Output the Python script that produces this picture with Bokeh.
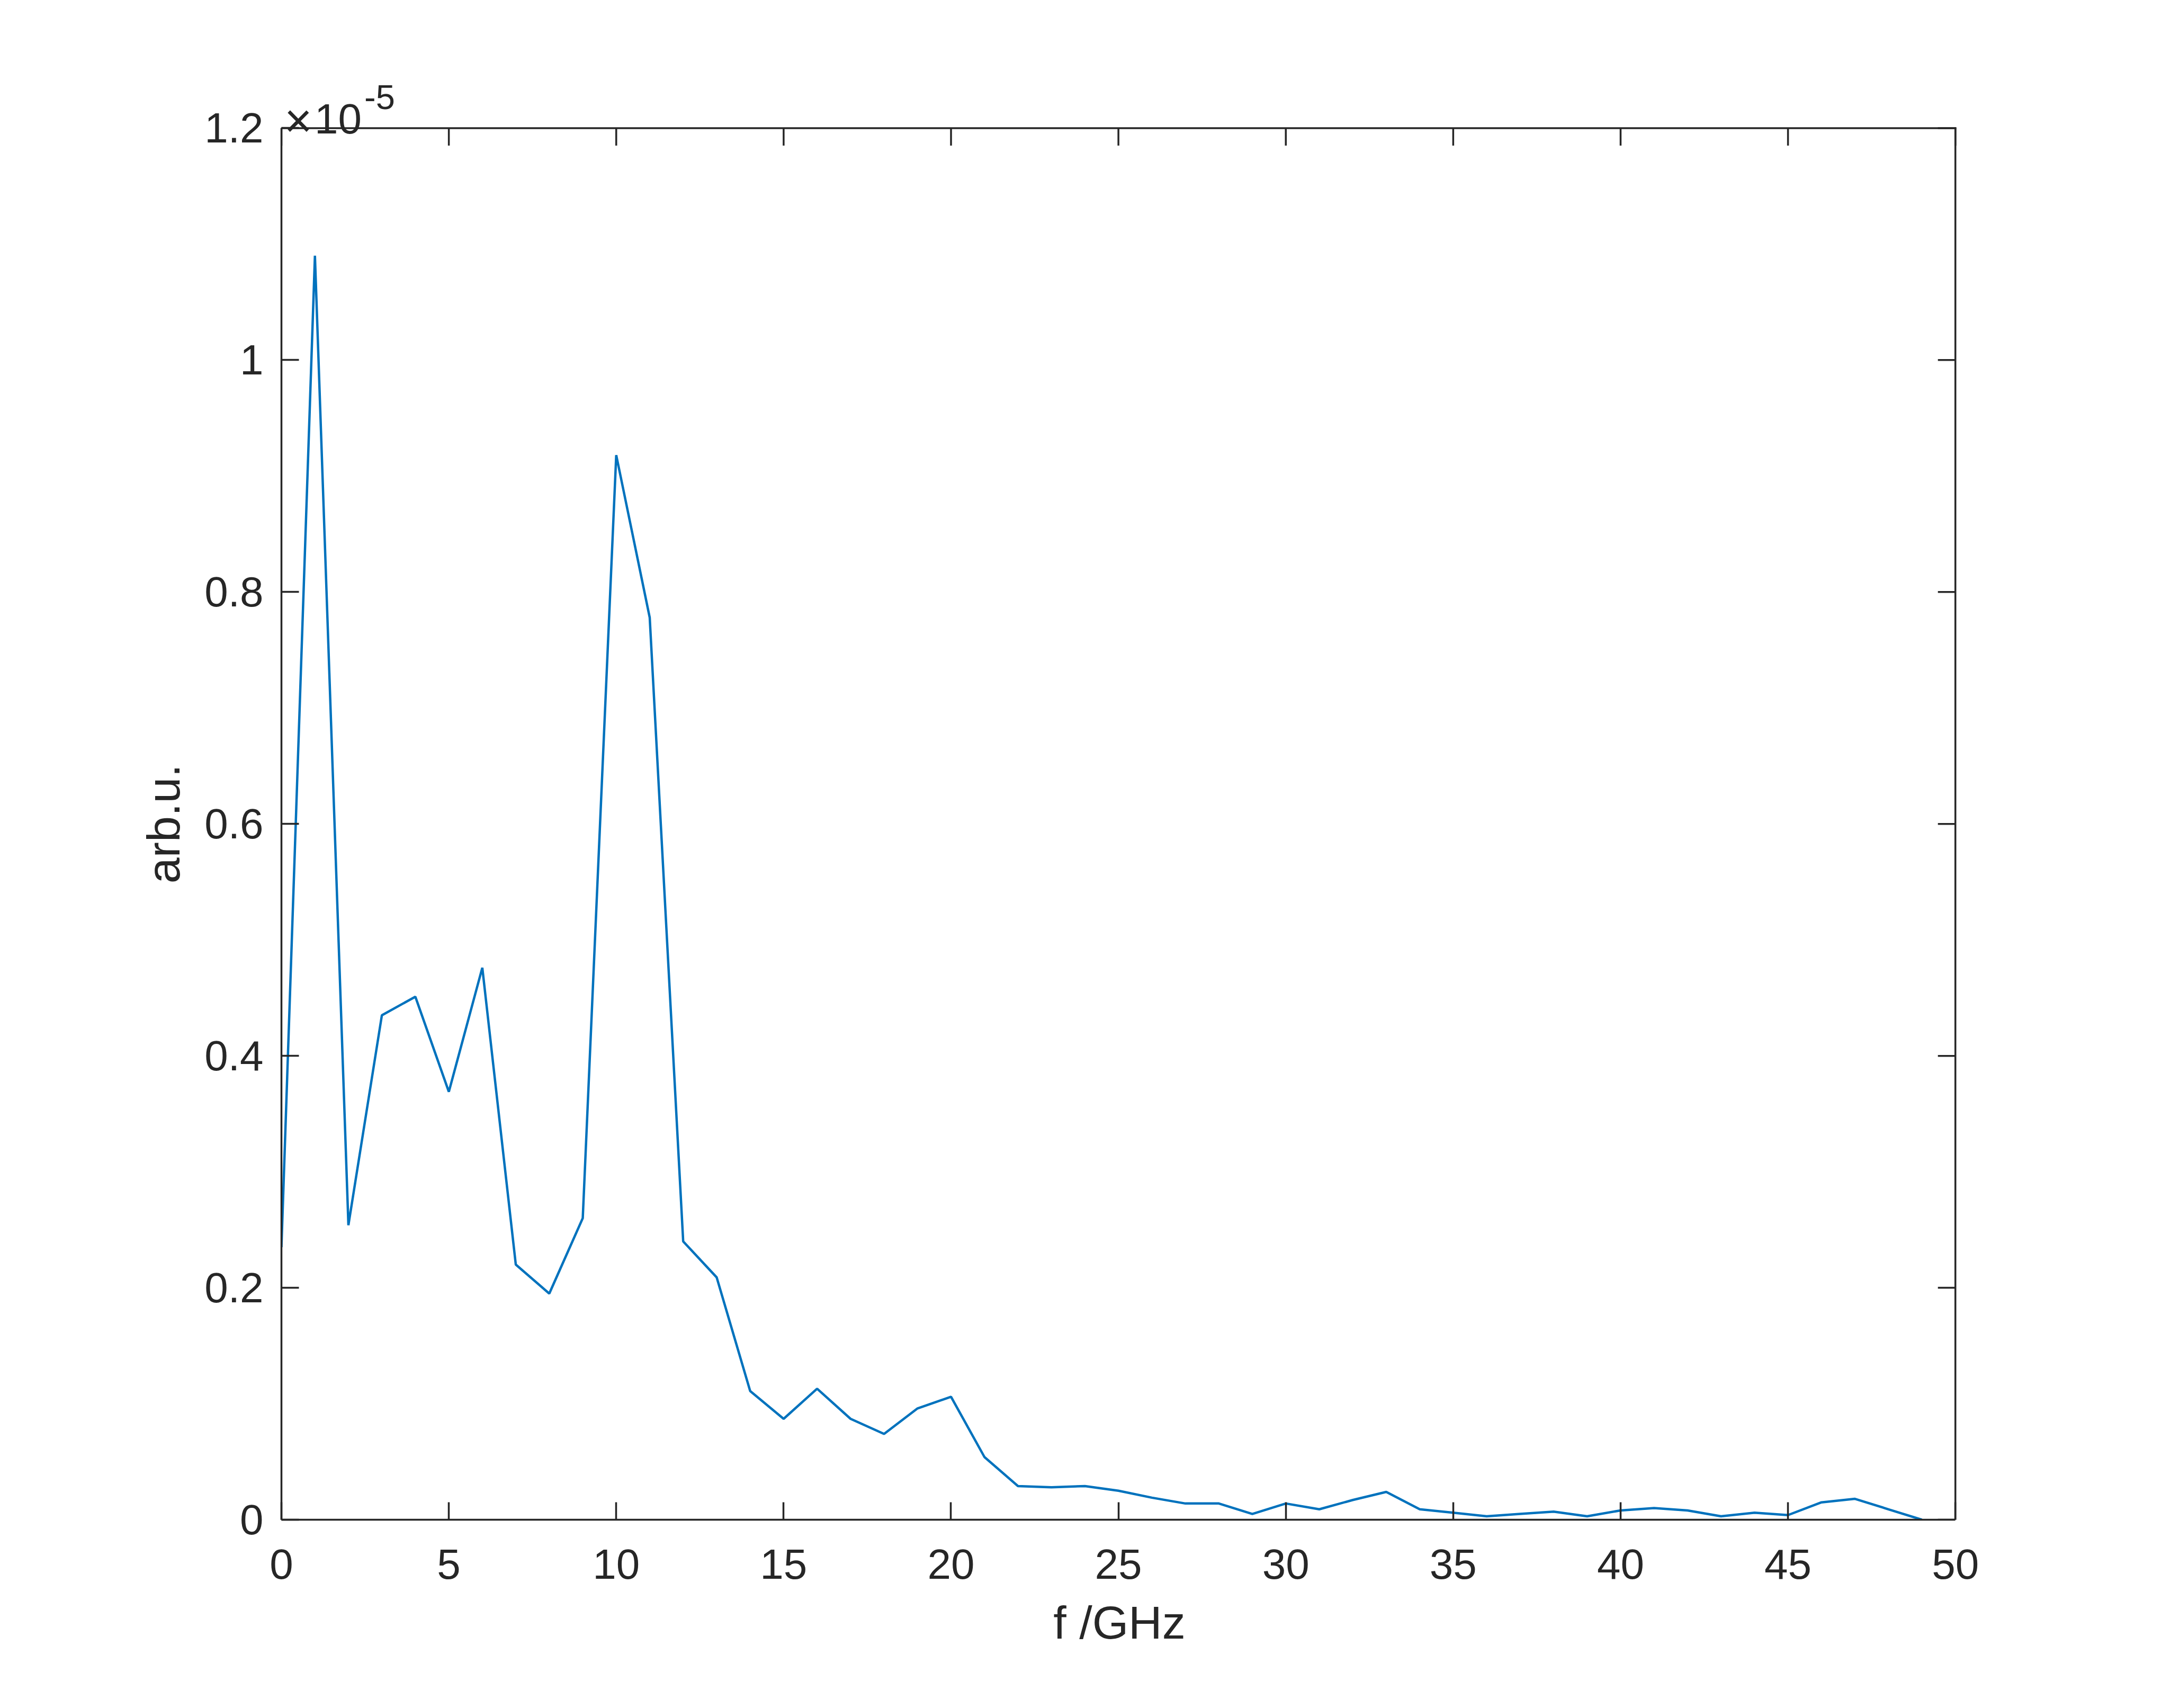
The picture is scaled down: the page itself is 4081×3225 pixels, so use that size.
from bokeh.plotting import figure
from bokeh.models import Range1d, FixedTicker, Label
from bokeh.embed import file_html
from bokeh.resources import INLINE

# data (values in units of 1e-5 arb.u.)
freq_ghz = list(range(0, 50))
amplitude = [0.235, 1.090, 0.254, 0.435, 0.451, 0.369, 0.476, 0.220, 0.195, 0.260,
             0.918, 0.778, 0.240, 0.209, 0.111, 0.087, 0.113, 0.087, 0.074, 0.096,
             0.106, 0.054, 0.029, 0.028, 0.029, 0.025, 0.019, 0.014, 0.014, 0.005,
             0.014, 0.009, 0.017, 0.024, 0.009, 0.006, 0.003, 0.005, 0.007, 0.003,
             0.008, 0.010, 0.008, 0.003, 0.006, 0.004, 0.015, 0.018, 0.009, 0.0]
x_ticks = [0, 5, 10, 15, 20, 25, 30, 35, 40, 45, 50]
y_ticks = [0, 0.2, 0.4, 0.6, 0.8, 1.0, 1.2]
y_tick_labels = ["0", "0.2", "0.4", "0.6", "0.8", "1", "1.2"]

FONT = "Liberation Sans"
TXT = "#262626"
TICK_FS = "80px"
LABEL_FS = "88px"
LW = 3.5
X_MIN, X_MAX, Y_MIN, Y_MAX = 0, 50, 0, 1.2
# the frame is a bit taller than the axes box so the exponent text fits inside it
X_VIEW_MAX, Y_VIEW_MAX = 50.06, 1.2559
PX_X = 63.22     # px per x unit
PX_Y = 2189.6    # px per y unit
FRAME_W = round(X_VIEW_MAX * PX_X)
FRAME_H = round(Y_VIEW_MAX * PX_Y)
W, H = 4072, 3216
LEFT, BOTTOM = 531, 347

p = figure(width=W, height=H, output_backend="svg", toolbar_location=None,
           x_range=Range1d(X_MIN, X_VIEW_MAX), y_range=Range1d(Y_MIN, Y_VIEW_MAX),
           min_border_left=LEFT, min_border_right=W - LEFT - FRAME_W,
           min_border_top=H - BOTTOM - FRAME_H, min_border_bottom=BOTTOM)
p.background_fill_color = "white"
p.border_fill_color = "white"
p.outline_line_color = None
p.xgrid.visible = False
p.ygrid.visible = False

p.line(freq_ghz, amplitude, line_color="#0072BD", line_width=4.5)

def style(ax, ticks):
    ax.ticker = FixedTicker(ticks=ticks)
    ax.axis_line_color = TXT
    ax.axis_line_width = LW
    ax.major_tick_line_color = TXT
    ax.major_tick_line_width = LW
    ax.major_tick_in = 33
    ax.major_tick_out = 0
    ax.minor_tick_line_color = None
    ax.major_label_text_font = FONT
    ax.major_label_text_font_size = TICK_FS
    ax.major_label_text_color = TXT
    ax.axis_label_text_font = FONT
    ax.axis_label_text_font_size = LABEL_FS
    ax.axis_label_text_font_style = "normal"
    ax.axis_label_text_color = TXT

xa = p.xaxis[0]
style(xa, x_ticks)
xa.bounds = (X_MIN, X_MAX)
xa.axis_label = "f /GHz"
xa.major_label_standoff = 56
xa.axis_label_standoff = 30

ya = p.yaxis[0]
style(ya, y_ticks)
ya.bounds = (Y_MIN, Y_MAX)
ya.major_label_overrides = {t: s for t, s in zip(y_ticks, y_tick_labels)}
# trailing no-break spaces re-centre the label on the 0..1.2 box instead of the taller frame
ya.axis_label = "arb.u." + "\u00a0" * 5
ya.major_label_standoff = 34
ya.axis_label_standoff = 25

# top and right edges of the box, with inward ticks (MATLAB "box on")
p.segment(x0=[X_MIN, X_MAX], y0=[Y_MAX, Y_MIN], x1=[X_MAX, X_MAX], y1=[Y_MAX, Y_MAX],
          line_color=TXT, line_width=LW, line_cap="square")
tick_len_x = 33 / PX_X
tick_len_y = 33 / PX_Y
p.segment(x0=x_ticks, y0=[Y_MAX] * len(x_ticks), x1=x_ticks, y1=[Y_MAX - tick_len_y] * len(x_ticks),
          line_color=TXT, line_width=LW)
p.segment(x0=[X_MAX] * len(y_ticks), y0=y_ticks, x1=[X_MAX - tick_len_x] * len(y_ticks), y1=y_ticks,
          line_color=TXT, line_width=LW)

# axis exponent "×10^-5"
p.add_layout(Label(x=0.087, y=1.2062, text="×", text_font=FONT, text_font_size="90px",
                   text_color=TXT, text_baseline="alphabetic", text_align="left"))
p.add_layout(Label(x=0.99, y=1.2080, text="10", text_font=FONT, text_font_size=TICK_FS,
                   text_color=TXT, text_baseline="alphabetic", text_align="left"))
p.add_layout(Label(x=2.475, y=1.2267, text="-5", text_font=FONT, text_font_size="65px",
                   text_color=TXT, text_baseline="alphabetic", text_align="left"))

open("out.html", "w").write(file_html(p, INLINE))
